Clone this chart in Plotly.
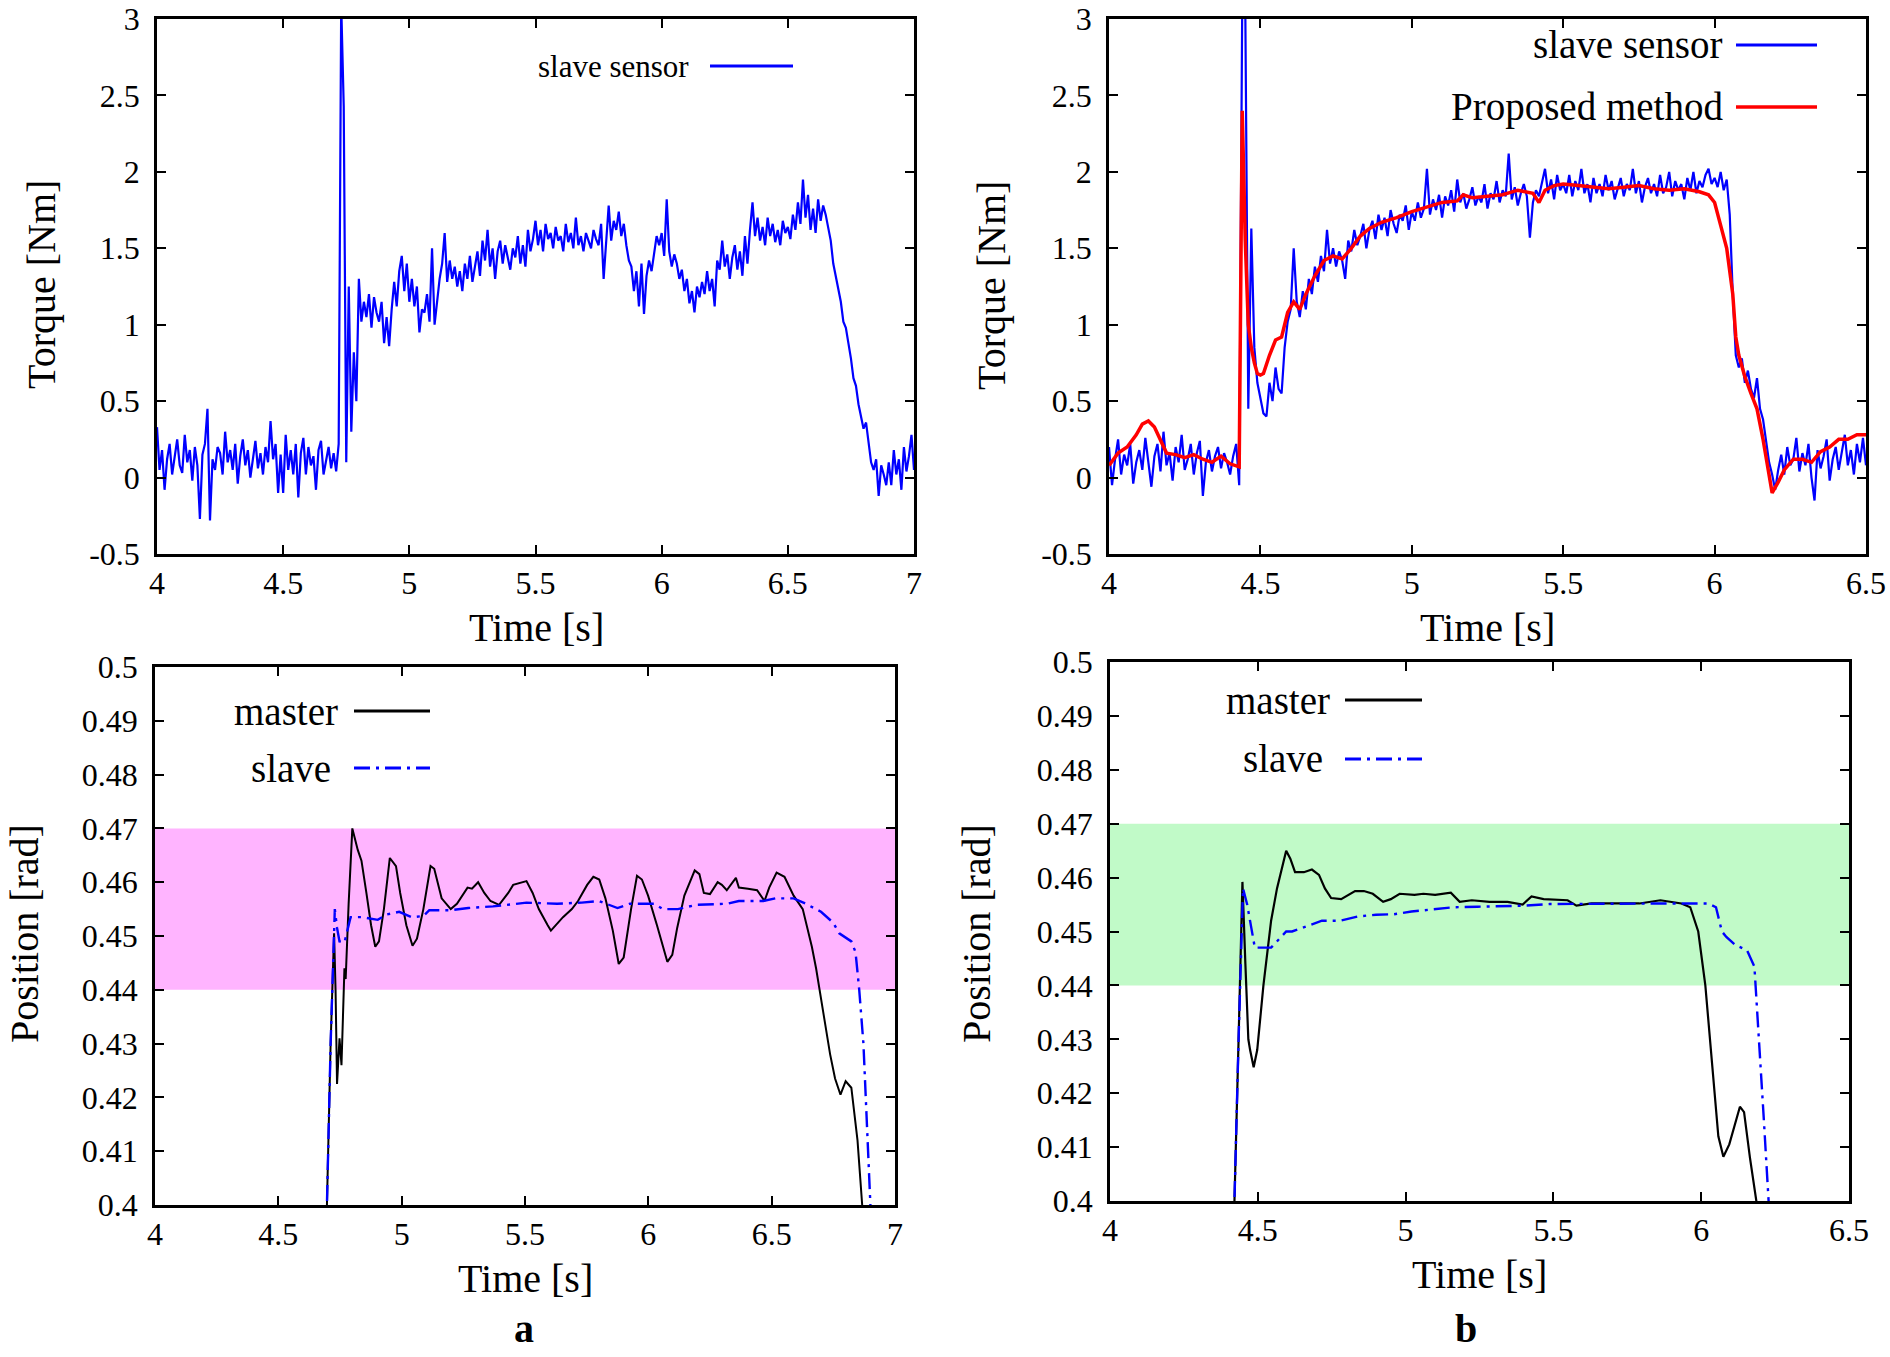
import numpy as np
import plotly.graph_objects as go

# ---------------- DATA ----------------
# (a) top: slave sensor torque, sampled every 0.01 s from 4.00 to 7.00 s
t_a_torque = np.round(np.arange(4.00, 7.0001, 0.01), 2)
a_slave_sensor = [
    0.33, 0.05, 0.18, -0.08, 0.12, 0.22, 0.02, 0.15, 0.25, 0.08,
    0.03, 0.28, 0.10, 0.18, -0.02, 0.20, 0.08, -0.27, 0.15, 0.22,
    0.45, -0.28, 0.12, 0.05, 0.20, 0.16, 0.02, 0.30, 0.10, 0.18,
    0.05, 0.22, -0.04, 0.14, 0.25, 0.08, 0.18, 0.00, 0.12, 0.24,
    0.06, 0.16, 0.02, 0.20, 0.10, 0.37, 0.12, 0.22, -0.10, 0.15,
    -0.10, 0.28, 0.05, 0.18, 0.02, 0.22, -0.13, 0.16, 0.26, 0.02,
    0.20, 0.08, 0.14, -0.08, 0.18, 0.24, 0.02, 0.12, 0.20, 0.06,
    0.16, 0.04, 0.22, 3.10, 2.43, 0.10, 1.25, 0.30, 0.82, 0.50,
    1.30, 1.02, 1.15, 1.05, 1.20, 0.98, 1.18, 1.08, 1.02, 1.15,
    0.88, 1.05, 0.86, 1.10, 1.28, 1.12, 1.35, 1.45, 1.22, 1.40,
    1.15, 1.30, 1.12, 1.25, 0.95, 1.10, 1.08, 1.20, 1.02, 1.50,
    1.00, 1.15, 1.30, 1.40, 1.60, 1.28, 1.42, 1.30, 1.38, 1.25,
    1.35, 1.22, 1.40, 1.30, 1.45, 1.28, 1.38, 1.48, 1.32, 1.55,
    1.42, 1.62, 1.38, 1.50, 1.30, 1.48, 1.55, 1.40, 1.52, 1.45,
    1.36, 1.50, 1.44, 1.58, 1.40, 1.52, 1.38, 1.62, 1.48, 1.56,
    1.68, 1.52, 1.62, 1.48, 1.66, 1.56, 1.60, 1.50, 1.64, 1.55,
    1.58, 1.48, 1.66, 1.54, 1.60, 1.50, 1.70, 1.52, 1.58, 1.48,
    1.60, 1.55, 1.50, 1.62, 1.56, 1.52, 1.66, 1.30, 1.58, 1.78,
    1.55, 1.68, 1.62, 1.74, 1.58, 1.66, 1.52, 1.42, 1.38, 1.22,
    1.35, 1.12, 1.40, 1.07, 1.32, 1.42, 1.35, 1.48, 1.58, 1.52,
    1.60, 1.45, 1.82, 1.48, 1.38, 1.46, 1.40, 1.30, 1.36, 1.22,
    1.30, 1.14, 1.22, 1.08, 1.25, 1.18, 1.28, 1.20, 1.35, 1.22,
    1.30, 1.12, 1.42, 1.36, 1.55, 1.38, 1.46, 1.30, 1.44, 1.52,
    1.36, 1.48, 1.32, 1.58, 1.40, 1.62, 1.80, 1.58, 1.70, 1.55,
    1.64, 1.52, 1.70, 1.58, 1.66, 1.54, 1.62, 1.52, 1.68, 1.60,
    1.64, 1.56, 1.72, 1.62, 1.80, 1.66, 1.95, 1.70, 1.85, 1.62,
    1.76, 1.60, 1.82, 1.68, 1.78, 1.72, 1.62, 1.55, 1.40, 1.32,
    1.22, 1.15, 1.02, 0.98, 0.88, 0.78, 0.65, 0.60, 0.48, 0.40,
    0.32, 0.36, 0.22, 0.10, 0.05, 0.12, -0.12, 0.08, 0.02, -0.05,
    0.10, -0.05, 0.18, 0.02, 0.12, -0.08, 0.20, 0.04, 0.14, 0.28,
    0.05,
]

# (b) top: slave sensor torque, sampled every 0.01 s from 4.00 to 6.50 s
t_b_torque = np.round(np.arange(4.00, 6.5001, 0.01), 2)
b_slave_sensor = [
    0.20, -0.05, 0.12, 0.25, 0.02, 0.15, 0.08, 0.22, -0.04, 0.10,
    0.18, 0.05, 0.26, 0.10, -0.06, 0.14, 0.22, 0.04, 0.30, 0.08,
    0.16, -0.02, 0.20, 0.10, 0.28, 0.05, 0.12, 0.22, 0.02, 0.16,
    0.24, -0.12, 0.10, 0.18, 0.04, 0.14, 0.20, 0.06, 0.16, 0.10,
    0.02, 0.14, 0.22, -0.05, 3.10, 3.10, 0.45, 1.63, 0.85, 0.62,
    0.52, 0.42, 0.40, 0.62, 0.50, 0.72, 0.58, 0.55, 0.85, 1.02,
    1.10, 1.50, 1.15, 1.05, 1.22, 1.10, 1.30, 1.20, 1.38, 1.28,
    1.45, 1.35, 1.62, 1.40, 1.50, 1.38, 1.48, 1.42, 1.30, 1.55,
    1.48, 1.62, 1.52, 1.58, 1.66, 1.50, 1.62, 1.68, 1.56, 1.72,
    1.62, 1.70, 1.58, 1.75, 1.66, 1.60, 1.72, 1.68, 1.78, 1.62,
    1.74, 1.68, 1.80, 1.70, 1.76, 2.02, 1.72, 1.82, 1.75, 1.85,
    1.70, 1.84, 1.78, 1.88, 1.74, 1.95, 1.80, 1.86, 1.76, 1.82,
    1.90, 1.78, 1.84, 1.80, 1.92, 1.76, 1.86, 1.82, 1.94, 1.80,
    1.88, 1.84, 2.12, 1.82, 1.90, 1.78, 1.86, 1.92, 1.84, 1.57,
    1.80, 1.88, 1.84, 1.92, 2.02, 1.86, 1.95, 1.82, 1.98, 1.88,
    1.92, 1.86, 1.98, 1.84, 1.94, 1.88, 2.02, 1.86, 1.92, 1.80,
    1.96, 1.86, 1.92, 1.84, 1.98, 1.88, 1.94, 1.82, 1.90, 1.96,
    1.84, 1.92, 1.88, 2.02, 1.86, 1.94, 1.80, 1.90, 1.96, 1.86,
    1.92, 1.84, 1.98, 1.86, 1.90, 2.00, 1.84, 1.94, 1.88, 1.92,
    1.82, 1.96, 1.88, 2.00, 1.86, 1.94, 1.90, 1.98, 2.02, 1.92,
    1.96, 1.90, 2.00, 1.88, 1.95, 1.72, 1.20, 0.80, 0.72, 0.78,
    0.62, 0.70, 0.58, 0.52, 0.65, 0.45, 0.38, 0.22, 0.10, 0.02,
    -0.08, 0.05, 0.15, 0.02, 0.20, 0.08, 0.12, 0.26, 0.04, 0.16,
    0.08, 0.22, 0.00, -0.15, 0.18, 0.06, 0.14, 0.25, -0.02, 0.12,
    0.20, 0.05, 0.16, 0.28, 0.08, 0.18, 0.02, 0.22, 0.10, 0.26,
    0.08,
]

# (b) top: proposed method estimate
t_b_proposed = [4.00, 4.03, 4.06, 4.09, 4.11, 4.13, 4.15, 4.17, 4.19, 4.22,
                4.25, 4.28, 4.31, 4.34, 4.37, 4.40, 4.43, 4.44, 4.45, 4.46,
                4.47, 4.48, 4.49, 4.50, 4.51, 4.53, 4.55, 4.57, 4.59, 4.61,
                4.63, 4.65, 4.68, 4.71, 4.74, 4.77, 4.80, 4.83, 4.86, 4.90,
                4.95, 5.00, 5.05, 5.10, 5.15, 5.17, 5.20, 5.25, 5.30, 5.35,
                5.40, 5.42, 5.44, 5.47, 5.50, 5.55, 5.60, 5.65, 5.70, 5.75,
                5.80, 5.85, 5.90, 5.95, 5.98, 6.00, 6.02, 6.04, 6.06, 6.07,
                6.08, 6.10, 6.12, 6.14, 6.16, 6.18, 6.19, 6.21, 6.23, 6.26,
                6.29, 6.32, 6.35, 6.38, 6.41, 6.44, 6.47, 6.50]
b_proposed = [0.08, 0.16, 0.20, 0.28, 0.35, 0.37, 0.33, 0.25, 0.16, 0.15,
              0.13, 0.15, 0.12, 0.10, 0.14, 0.09, 0.07, 2.40, 1.55, 1.00,
              0.85, 0.75, 0.68, 0.67, 0.68, 0.80, 0.90, 0.92, 1.08, 1.15,
              1.10, 1.20, 1.32, 1.42, 1.45, 1.43, 1.50, 1.58, 1.63, 1.67,
              1.70, 1.74, 1.77, 1.80, 1.81, 1.85, 1.83, 1.84, 1.85, 1.88,
              1.86, 1.80, 1.88, 1.91, 1.92, 1.91, 1.90, 1.89, 1.90, 1.91,
              1.89, 1.88, 1.89, 1.87, 1.85, 1.80, 1.65, 1.50, 1.20, 0.92,
              0.80, 0.66, 0.55, 0.45, 0.25, 0.00, -0.10, -0.03, 0.05, 0.12,
              0.12, 0.10, 0.17, 0.20, 0.25, 0.25, 0.28, 0.28]

# (a) bottom: positions
t_a_master = [4.690, 4.697, 4.712, 4.726, 4.732, 4.738, 4.748, 4.756, 4.768, 4.773,
              4.785, 4.800, 4.822, 4.837, 4.857, 4.876, 4.893, 4.908, 4.928, 4.952,
              4.977, 4.994, 5.019, 5.044, 5.062, 5.088, 5.117, 5.132, 5.162, 5.199,
              5.224, 5.267, 5.285, 5.310, 5.335, 5.360, 5.395, 5.432, 5.452, 5.506,
              5.531, 5.556, 5.592, 5.605, 5.654, 5.690, 5.715, 5.752, 5.777, 5.801,
              5.826, 5.856, 5.880, 5.900, 5.930, 5.954, 5.974, 5.999, 6.035, 6.077,
              6.097, 6.117, 6.146, 6.188, 6.207, 6.225, 6.250, 6.281, 6.298, 6.318,
              6.355, 6.367, 6.404, 6.441, 6.471, 6.490, 6.520, 6.552, 6.589, 6.626,
              6.663, 6.680, 6.712, 6.737, 6.757, 6.779, 6.800, 6.823, 6.848, 6.867,
              6.880]
a_master = [0.395, 0.400, 0.430, 0.4505, 0.440, 0.4225, 0.431, 0.426, 0.444, 0.442,
            0.456, 0.470, 0.466, 0.464, 0.458, 0.452, 0.448, 0.449, 0.455, 0.4645,
            0.463, 0.458, 0.452, 0.4482, 0.4495, 0.455, 0.463, 0.4625, 0.457, 0.455,
            0.456, 0.459, 0.4588, 0.4600, 0.4580, 0.4565, 0.4558, 0.4580, 0.4595, 0.4602,
            0.4580, 0.4550, 0.4520, 0.4510, 0.4535, 0.4550, 0.4565, 0.4595, 0.4610, 0.4605,
            0.4570, 0.4510, 0.4448, 0.4460, 0.4550, 0.4612, 0.4605, 0.4575, 0.4520, 0.4452,
            0.4465, 0.4515, 0.4575, 0.4622, 0.4615, 0.4580, 0.4578, 0.4600, 0.4595, 0.4585,
            0.4608, 0.4590, 0.4588, 0.4585, 0.4565, 0.4590, 0.4618, 0.4610, 0.4575, 0.4550,
            0.4480, 0.4440, 0.4350, 0.4280, 0.4235, 0.4205, 0.4230, 0.4218, 0.4120, 0.4000,
            0.3950]
t_a_slave = [4.690, 4.697, 4.712, 4.729, 4.738, 4.748, 4.768, 4.793, 4.840, 4.903,
             4.940, 4.990, 5.040, 5.088, 5.112, 5.200, 5.270, 5.370, 5.506, 5.630,
             5.730, 5.800, 5.875, 5.925, 6.023, 6.060, 6.120, 6.195, 6.320, 6.367,
             6.466, 6.515, 6.589, 6.638, 6.700, 6.749, 6.774, 6.823, 6.840, 6.855,
             6.872, 6.885, 6.899, 6.905]
a_slave = [0.395, 0.400, 0.430, 0.455, 0.4515, 0.4490, 0.4488, 0.4535, 0.4535, 0.4530,
           0.4540, 0.4545, 0.4535, 0.4537, 0.4548, 0.4548, 0.4552, 0.4555, 0.4562, 0.4560,
           0.4562, 0.4565, 0.4552, 0.4560, 0.4560, 0.4550, 0.4550, 0.4558, 0.4560, 0.4565,
           0.4565, 0.4570, 0.4570, 0.4560, 0.4545, 0.4525, 0.4505, 0.4490, 0.4470, 0.4400,
           0.4300, 0.4150, 0.4000, 0.3950]

# (b) bottom: positions
t_b_master = [4.415, 4.421, 4.435, 4.448, 4.458, 4.468, 4.474, 4.486, 4.498, 4.519,
              4.545, 4.565, 4.596, 4.610, 4.626, 4.656, 4.683, 4.707, 4.727, 4.748,
              4.782, 4.829, 4.859, 4.889, 4.924, 4.950, 4.980, 5.030, 5.060, 5.100,
              5.153, 5.183, 5.224, 5.284, 5.345, 5.396, 5.426, 5.467, 5.548, 5.578,
              5.629, 5.710, 5.791, 5.862, 5.933, 5.963, 5.990, 6.014, 6.038, 6.058,
              6.075, 6.095, 6.131, 6.145, 6.165, 6.186, 6.200]
b_master = [0.395, 0.400, 0.430, 0.4592, 0.4440, 0.4300, 0.4280, 0.4248, 0.4280, 0.4400,
            0.4520, 0.4580, 0.4650, 0.4635, 0.4610, 0.4610, 0.4615, 0.4605, 0.4580, 0.4562,
            0.4560, 0.4575, 0.4575, 0.4570, 0.4555, 0.4560, 0.4570, 0.4568, 0.4570, 0.4568,
            0.4572, 0.4555, 0.4558, 0.4555, 0.4555, 0.4550, 0.4565, 0.4560, 0.4558, 0.4548,
            0.4552, 0.4552, 0.4552, 0.4558, 0.4552, 0.4545, 0.4500, 0.4400, 0.4250, 0.4120,
            0.4082, 0.4105, 0.4175, 0.4165, 0.4080, 0.4000, 0.3950]
t_b_slave = [4.415, 4.421, 4.435, 4.450, 4.464, 4.490, 4.545, 4.596, 4.616, 4.656,
             4.717, 4.778, 4.839, 4.900, 4.960, 5.020, 5.080, 5.163, 5.244, 5.406,
             5.487, 5.690, 5.892, 6.024, 6.050, 6.070, 6.085, 6.115, 6.155, 6.180,
             6.196, 6.212, 6.228, 6.235]
b_slave = [0.395, 0.400, 0.430, 0.458, 0.455, 0.447, 0.447, 0.450, 0.450, 0.4508,
           0.4520, 0.4520, 0.4528, 0.4531, 0.4532, 0.4537, 0.4540, 0.4545, 0.4546, 0.4548,
           0.4551, 0.4552, 0.4552, 0.4552, 0.4545, 0.4500, 0.4490, 0.4475, 0.4465, 0.4435,
           0.4300, 0.4150, 0.4000, 0.3950]

# tolerance bands
band_low, band_high = 0.44, 0.47

# tick labels
torque_ticks = [-0.5, 0, 0.5, 1, 1.5, 2, 2.5, 3]
torque_ticktext = ["-0.5", "0", "0.5", "1", "1.5", "2", "2.5", "3"]
pos_ticks = [0.40, 0.41, 0.42, 0.43, 0.44, 0.45, 0.46, 0.47, 0.48, 0.49, 0.50]
pos_ticktext = ["0.4", "0.41", "0.42", "0.43", "0.44", "0.45", "0.46", "0.47", "0.48", "0.49", "0.5"]
time_ticks_a = [4, 4.5, 5, 5.5, 6, 6.5, 7]
time_ticktext_a = ["4", "4.5", "5", "5.5", "6", "6.5", "7"]
time_ticks_b = [4, 4.5, 5, 5.5, 6, 6.5]
time_ticktext_b = ["4", "4.5", "5", "5.5", "6", "6.5"]

# ---------------- FIGURE ----------------
W, H = 1890, 1357
FONT = "Liberation Serif, Times New Roman, serif"
BLUE = "#0000ff"
RED = "#ff0000"
SLAVE_DASH = "16px,6px,3px,6px"

fig = go.Figure()

fig.add_trace(go.Scatter(x=t_a_torque, y=a_slave_sensor, mode="lines",
                         line=dict(color=BLUE, width=2.2), xaxis="x", yaxis="y"))
fig.add_trace(go.Scatter(x=t_b_torque, y=b_slave_sensor, mode="lines",
                         line=dict(color=BLUE, width=2.2), xaxis="x2", yaxis="y2"))
fig.add_trace(go.Scatter(x=t_b_proposed, y=b_proposed, mode="lines",
                         line=dict(color=RED, width=3.5), xaxis="x2", yaxis="y2"))
fig.add_trace(go.Scatter(x=t_a_master, y=a_master, mode="lines",
                         line=dict(color="black", width=2), xaxis="x3", yaxis="y3"))
fig.add_trace(go.Scatter(x=t_a_slave, y=a_slave, mode="lines",
                         line=dict(color=BLUE, width=2.4, dash=SLAVE_DASH), xaxis="x3", yaxis="y3"))
fig.add_trace(go.Scatter(x=t_b_master, y=b_master, mode="lines",
                         line=dict(color="black", width=2.2), xaxis="x4", yaxis="y4"))
fig.add_trace(go.Scatter(x=t_b_slave, y=b_slave, mode="lines",
                         line=dict(color=BLUE, width=2.4, dash=SLAVE_DASH), xaxis="x4", yaxis="y4"))


def px_x(p):
    return p / W


def px_y(p):
    return 1 - p / H


def axis(domain, rng, tickvals, ticktext, anchor, standoff):
    return dict(domain=domain, range=rng, tickvals=tickvals, ticktext=ticktext,
                anchor=anchor, showline=True, linecolor="black", linewidth=2.5,
                mirror="allticks", ticks="inside", ticklen=9, tickwidth=1.5,
                tickcolor="black", showgrid=False, zeroline=False,
                automargin=False, ticklabelstandoff=standoff,
                ticklabeloverflow="allow",
                tickfont=dict(family=FONT, size=32, color="black"))


# plot areas in window pixels: (left, right, top, bottom)
areas = {
    "1": (157, 914, 19, 554),
    "2": (1109, 1866, 19, 554),
    "3": (155, 895, 667, 1205),
    "4": (1110, 1849, 662, 1201),
}


def dom(a):
    l, r, t, b = a
    return [px_x(l), px_x(r)], [px_y(b), px_y(t)]


xd1, yd1 = dom(areas["1"])
xd2, yd2 = dom(areas["2"])
xd3, yd3 = dom(areas["3"])
xd4, yd4 = dom(areas["4"])

XSO, YSO = -1, 8

fig.update_layout(
    width=W, height=H,
    autosize=False,
    margin=dict(l=0, r=0, t=0, b=0, pad=0, autoexpand=False),
    font=dict(family=FONT, color="black"),
    paper_bgcolor="white", plot_bgcolor="white",
    showlegend=False,
    xaxis=axis(xd1, [4, 7], time_ticks_a, time_ticktext_a, "y", XSO),
    yaxis=axis(yd1, [-0.5, 3], torque_ticks, torque_ticktext, "x", YSO),
    xaxis2=axis(xd2, [4, 6.5], time_ticks_b, time_ticktext_b, "y2", XSO),
    yaxis2=axis(yd2, [-0.5, 3], torque_ticks, torque_ticktext, "x2", YSO),
    xaxis3=axis(xd3, [4, 7], time_ticks_a, time_ticktext_a, "y3", XSO),
    yaxis3=axis(yd3, [0.4, 0.5], pos_ticks, pos_ticktext, "x3", YSO),
    xaxis4=axis(xd4, [4, 6.5], time_ticks_b, time_ticktext_b, "y4", XSO),
    yaxis4=axis(yd4, [0.4, 0.5], pos_ticks, pos_ticktext, "x4", YSO),
)

# tolerance bands
fig.add_shape(type="rect", xref="x3 domain", yref="y3", x0=0, x1=1,
              y0=band_low, y1=band_high, fillcolor="#ffb4ff", line_width=0, layer="below")
fig.add_shape(type="rect", xref="x4 domain", yref="y4", x0=0, x1=1,
              y0=band_low, y1=band_high, fillcolor="#c1fac8", line_width=0, layer="below")


def text(x, y, s, size=40, angle=0, xanchor="center", bold=False):
    fig.add_annotation(x=px_x(x), y=px_y(y), xref="paper", yref="paper",
                       text=("<b>%s</b>" % s) if bold else s, showarrow=False,
                       textangle=angle, xanchor=xanchor, yanchor="middle",
                       font=dict(family=FONT, size=size, color="black"))


# axis titles
text(42, 285, "Torque [Nm]", angle=-90)
text(536, 627, "Time [s]")
text(992, 285, "Torque [Nm]", angle=-90)
text(1487, 627, "Time [s]")
text(24, 934, "Position [rad]", angle=-90)
text(525, 1278, "Time [s]")
text(976, 934, "Position [rad]", angle=-90)
text(1479, 1274, "Time [s]")
text(524, 1328, "a", size=40, bold=True)
text(1466, 1328, "b", size=40, bold=True)


# legends (text right-aligned, sample line to its right)
def legend_key(x0, x1, y, color, width, dash="solid"):
    fig.add_shape(type="line", xref="paper", yref="paper",
                  x0=px_x(x0), x1=px_x(x1), y0=px_y(y), y1=px_y(y),
                  line=dict(color=color, width=width, dash=dash))


text(691, 66, "slave sensor", size=31, xanchor="right")
legend_key(710, 793, 66, BLUE, 3)

text(1725, 45, "slave sensor", size=39, xanchor="right")
legend_key(1736, 1817, 45, BLUE, 3)
text(1725, 107, "Proposed method", size=39, xanchor="right")
legend_key(1736, 1817, 107, RED, 3.5)

text(340, 711, "master", size=39, xanchor="right")
legend_key(354, 430, 711, "black", 3)
text(333, 768, "slave", size=39, xanchor="right")
legend_key(354, 430, 768, BLUE, 3, SLAVE_DASH)

text(1332, 700, "master", size=39, xanchor="right")
legend_key(1345, 1422, 700, "black", 3)
text(1325, 759, "slave", size=39, xanchor="right")
legend_key(1345, 1422, 759, BLUE, 3, SLAVE_DASH)

# remove the default page margin so the figure fills the window exactly
fig.write_html("out.html",
               config={"displayModeBar": False},
               post_script="document.body.style.margin='0px';"
                           "document.body.style.overflow='hidden';")
